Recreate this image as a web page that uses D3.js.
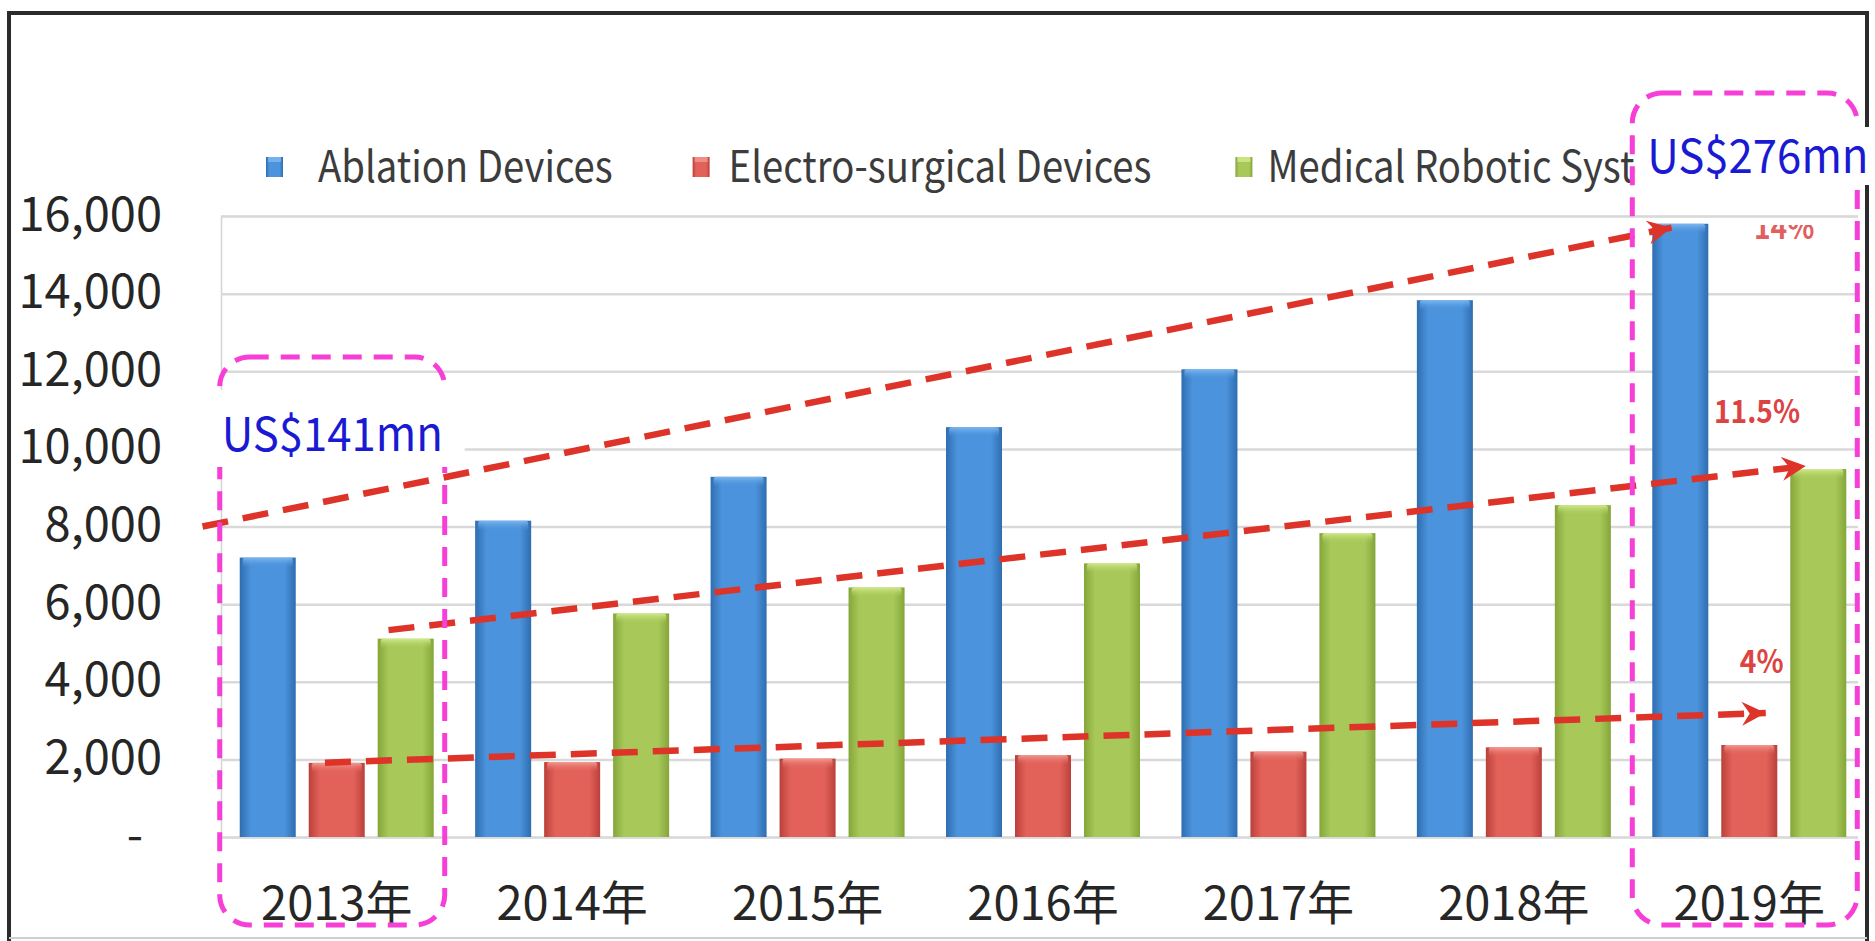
<!DOCTYPE html>
<html><head><meta charset="utf-8">
<script src="https://cdn.jsdelivr.net/npm/d3@7"></script>
<style>
html,body{margin:0;padding:0;background:#fff;}
svg{display:block;}
text{font-family:"Noto Sans CJK TC","Noto Sans CJK SC","Noto Sans",sans-serif;}
</style></head><body>
<svg id="chart" width="1875" height="941"></svg>
<script>
// ---------------- data ----------------
const years = ["2013","2014","2015","2016","2017","2018","2019"];
const yearLabels = ["2013年","2014年","2015年","2016年","2017年","2018年","2019年"];
const seriesNames = ["Ablation Devices","Electro-surgical Devices","Medical Robotic Systems"];
const ablation = [7200, 8150, 9280, 10560, 12050, 13830, 15800];
const electro  = [1910, 1930, 2020, 2110, 2200, 2310, 2370];
const robotic  = [5110, 5760, 6430, 7050, 7830, 8550, 9480];
const yTicks = [0, 2000, 4000, 6000, 8000, 10000, 12000, 14000, 16000];
// trend arrows: [year position, value]
const trendLabels = ["14%", "11.5%", "4%"];
const trendFrom = [[2012.43, 8000], [2013.22, 5330], [2012.95, 1915]];
const trendTo   = [[2018.67, 15700], [2019.24, 9560], [2019.07, 3195]];
const trendLabelAt = [[2019.02, 15420], [2018.85, 10667], [2018.96, 4225]];
// callouts
const calloutYears = ["2013", "2019"];
const calloutTexts = ["US$141mn", "US$276mn"];

// ---------------- setup ----------------
const svg = d3.select("#chart");
const W = 1875, H = 941;
const plotLeft = 221, plotRight = 1858;

const x0 = d3.scaleBand().domain(years).range([219, 1867]).paddingInner(0.176).paddingOuter(0.088);
const x1 = d3.scaleBand().domain(seriesNames).range([0, x0.bandwidth()]).paddingInner(0.188);
const y = d3.scaleLinear().domain([0, 16000]).range([837, 216]);
const bw = x0.bandwidth();
const xPos = d3.scaleLinear().domain([2013, 2019])
  .range([x0("2013") + bw / 2, x0("2019") + bw / 2]);

const colors = {
  "Ablation Devices": ["#2f6db0", "#4b93dc", "#7db8f0"],
  "Electro-surgical Devices": ["#bb403a", "#e2625a", "#f29a92"],
  "Medical Robotic Systems": ["#84a538", "#a8c95a", "#d2ea8c"]
};

const defs = svg.append("defs");
seriesNames.forEach((s, i) => {
  const c = colors[s];
  const g = defs.append("linearGradient").attr("id", "g" + i).attr("x1", 0).attr("x2", 1).attr("y1", 0).attr("y2", 0);
  g.append("stop").attr("offset", "0").attr("stop-color", c[0]);
  g.append("stop").attr("offset", "0.2").attr("stop-color", c[1]);
  g.append("stop").attr("offset", "0.8").attr("stop-color", c[1]);
  g.append("stop").attr("offset", "1").attr("stop-color", c[0]);
  const t = defs.append("linearGradient").attr("id", "t" + i).attr("x1", 0).attr("x2", 0).attr("y1", 0).attr("y2", 1);
  t.append("stop").attr("offset", "0").attr("stop-color", c[2]).attr("stop-opacity", 1);
  t.append("stop").attr("offset", "1").attr("stop-color", c[1]).attr("stop-opacity", 0);
});
defs.append("marker").attr("id", "ah")
  .attr("viewBox", "0 -13 26 26").attr("refX", 24).attr("refY", 0)
  .attr("markerWidth", 26).attr("markerHeight", 26)
  .attr("markerUnits", "userSpaceOnUse").attr("orient", "auto")
  .append("path").attr("d", "M0,-12 L24,0 L0,12 L8,0Z").attr("fill", "#dd3328");
defs.append("clipPath").attr("id", "clip14")
  .append("rect").attr("x", 1700).attr("y", 225).attr("width", 200).attr("height", 40);

svg.append("rect").attr("width", W).attr("height", H).attr("fill", "#fff");

// frame
const frame = svg.append("g");
frame.append("line").attr("x1", 9).attr("x2", 9).attr("y1", 11).attr("y2", H).attr("stroke", "#2b2b2b").attr("stroke-width", 4);
frame.append("line").attr("x1", 7).attr("x2", 1869).attr("y1", 13).attr("y2", 13).attr("stroke", "#2b2b2b").attr("stroke-width", 4);
frame.append("line").attr("x1", 1867).attr("x2", 1867).attr("y1", 11).attr("y2", H).attr("stroke", "#2b2b2b").attr("stroke-width", 4);
frame.append("line").attr("x1", 9).attr("x2", 1867).attr("y1", 938).attr("y2", 938).attr("stroke", "#cfcfcf").attr("stroke-width", 2);

// y axis with gridlines
const yAxis = svg.append("g").attr("transform", `translate(${plotLeft},0)`)
  .call(d3.axisLeft(y).tickValues(yTicks).tickSize(-(plotRight - plotLeft)).tickPadding(59)
    .tickFormat(d => d === 0 ? "-" : d3.format(",")(d)));
yAxis.select(".domain").attr("stroke", "#d4d4d4").attr("stroke-width", 1.5);
yAxis.selectAll(".tick line").attr("stroke", "#d9d9d9").attr("stroke-width", 2.5);
yAxis.selectAll(".tick text").attr("font-size", 47).attr("fill", "#262626")
  .attr("font-family", "Noto Sans CJK TC").attr("dy", "0.3em")
  .attr("dx", d => d === 0 ? -19 : 0);

// x axis
const xAxis = svg.append("g").attr("transform", `translate(0,${y(0)})`)
  .call(d3.axisBottom(x0).tickSize(0).tickPadding(50).tickFormat((d, i) => yearLabels[i]));
xAxis.select(".domain").remove();
xAxis.selectAll(".tick text").attr("font-size", 47).attr("fill", "#262626").attr("font-family", "Noto Sans CJK TC");

// bars
const rows = years.map((yr, i) => ({ year: yr, values: [ablation[i], electro[i], robotic[i]] }));
const groups = svg.append("g").selectAll("g").data(rows).join("g")
  .attr("transform", d => `translate(${x0(d.year)},0)`);
groups.selectAll("rect.bar").data(d => d.values.map((v, i) => ({ s: seriesNames[i], i, v })))
  .join("rect").attr("class", "bar")
  .attr("x", d => x1(d.s)).attr("width", x1.bandwidth())
  .attr("y", d => y(d.v)).attr("height", d => y(0) - y(d.v))
  .attr("fill", d => `url(#g${d.i})`);
groups.selectAll("rect.cap").data(d => d.values.map((v, i) => ({ s: seriesNames[i], i, v })))
  .join("rect").attr("class", "cap")
  .attr("x", d => x1(d.s) + 3).attr("width", x1.bandwidth() - 6)
  .attr("y", d => y(d.v)).attr("height", 10).attr("rx", 3)
  .attr("fill", d => `url(#t${d.i})`);

// helper: horizontally condensed text
function condensedText(parent, x, yy, str, size, sx) {
  return parent.append("text")
    .attr("transform", `translate(${x},${yy}) scale(${sx},1)`)
    .attr("font-size", size).text(str);
}

// trend arrows
const arrows = svg.append("g");
trendLabels.forEach((lab, i) => {
  arrows.append("line")
    .attr("x1", xPos(trendFrom[i][0])).attr("y1", y(trendFrom[i][1]))
    .attr("x2", xPos(trendTo[i][0])).attr("y2", y(trendTo[i][1]))
    .attr("stroke", "#dd3328").attr("stroke-width", 6.5)
    .attr("stroke-dasharray", "26 15").attr("marker-end", "url(#ah)");
  const g = arrows.append("g");
  if (i === 0) g.attr("clip-path", "url(#clip14)").attr("opacity", 0.85);
  condensedText(g, xPos(trendLabelAt[i][0]), y(trendLabelAt[i][1]), lab, 32, 0.88)
    .attr("font-weight", "bold").attr("fill", "#dc4444");
});

// legend
const legend = svg.append("g");
const legendSx = 0.89;
const markerGap = [52, 36, 32];
let lx = 318;
seriesNames.forEach((s, i) => {
  legend.append("rect").attr("x", lx - markerGap[i]).attr("y", 157).attr("width", 17).attr("height", 20)
    .attr("fill", `url(#g${i})`);
  legend.append("rect").attr("x", lx - markerGap[i] + 2).attr("y", 157).attr("width", 13).attr("height", 5)
    .attr("fill", colors[s][2]).attr("opacity", 0.8);
  const t = condensedText(legend, lx, 182, s, 43, legendSx).attr("fill", "#3c3c3c");
  lx += t.node().getComputedTextLength() * legendSx + 116;
});

// callout boxes
const calloutLayout = {
  "2013": { top: 357, bgX: -8, bgW: 253, bgY: 390, bgH: 77, tx: 2, ty: 451 },
  "2019": { top: 93, bgX: 3, bgW: 245, bgY: 127, bgH: 58, tx: 15, ty: 173 }
};
const callouts = svg.append("g");
calloutYears.forEach((yr, i) => {
  const L = calloutLayout[yr];
  const bx = x0(yr) - 20, bwid = bw + 31;
  callouts.append("rect").attr("x", bx).attr("y", L.top)
    .attr("width", bwid).attr("height", (y(0) + 88) - L.top)
    .attr("rx", 30).attr("ry", 30)
    .attr("fill", "none").attr("stroke", "#f53fd6").attr("stroke-width", 5)
    .attr("stroke-dasharray", "19 12");
  callouts.append("rect").attr("x", bx + L.bgX).attr("y", L.bgY)
    .attr("width", L.bgW).attr("height", L.bgH).attr("fill", "#fff");
  condensedText(callouts, bx + L.tx, L.ty, calloutTexts[i], 47, 0.93).attr("fill", "#1a1ad2");
});
</script>
</body></html>
